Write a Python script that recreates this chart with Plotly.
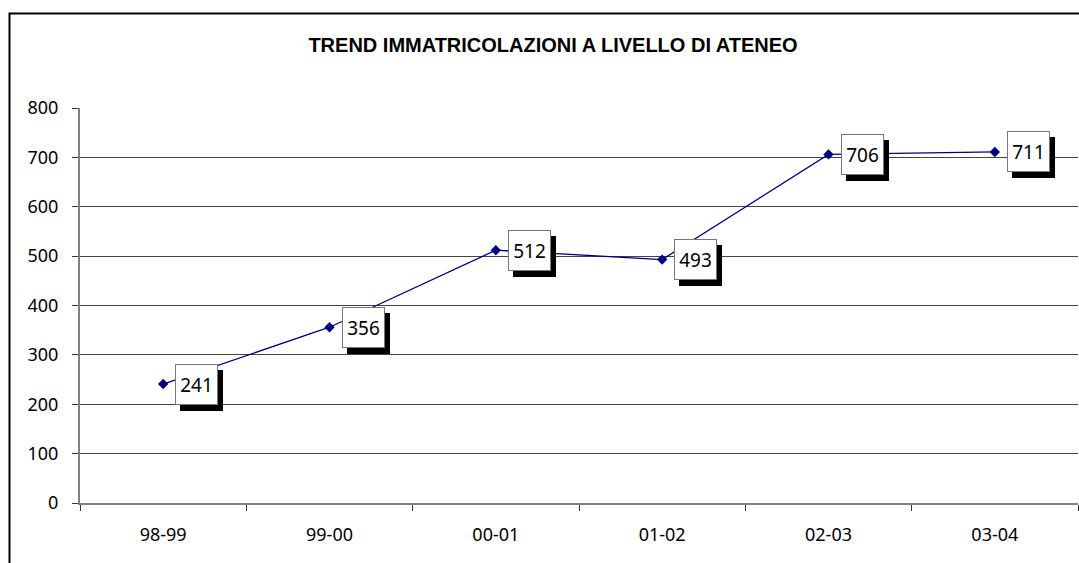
import plotly.graph_objects as go

categories = ["98-99", "99-00", "00-01", "01-02", "02-03", "03-04"]
values = [241, 356, 512, 493, 706, 711]
y_ticks = [0, 100, 200, 300, 400, 500, 600, 700, 800]
title_text = "TREND IMMATRICOLAZIONI A LIVELLO DI ATENEO"

FONT = "Noto Sans, DejaVu Sans, sans-serif"
W, H = 1079, 563
L, R, T, B = 80, 1, 108, 60

fig = go.Figure()
fig.add_trace(go.Scatter(
    x=categories, y=values, mode="lines+markers",
    line=dict(color="#000080", width=1.3),
    marker=dict(symbol="diamond", size=8, color="#000080"),
    showlegend=False, hoverinfo="skip",
))

annotations = []
for c, v in zip(categories, values):
    # shadow
    annotations.append(dict(
        x=c, y=v, xref="x", yref="y", text=str(v), showarrow=False,
        xanchor="left", yanchor="middle", xshift=12 + 5, yshift=-6,
        font=dict(family=FONT, size=19, color="black"),
        bgcolor="black", bordercolor="black", borderwidth=1, borderpad=1,
        width=39, height=37,
    ))
    annotations.append(dict(
        x=c, y=v, xref="x", yref="y", text=str(v), showarrow=False,
        xanchor="left", yanchor="middle", xshift=12,
        font=dict(family=FONT, size=19, color="black"),
        bgcolor="white", bordercolor="#777777", borderwidth=1, borderpad=1,
        width=39, height=37,
    ))

pw = W - L - R
ph = H - T - B
def px_x(p):
    return (p - L) / pw
def px_y(p):
    return (H - B - p) / ph

fig.update_layout(
    width=W, height=H,
    margin=dict(l=L, r=R, t=T, b=B),
    paper_bgcolor="white", plot_bgcolor="white",
    font=dict(family=FONT, size=18, color="black"),
    title=dict(text="<b>" + title_text + "</b>", x=553 / W, xanchor="center",
               y=1 - 45 / H, yanchor="middle", yref="container",
               font=dict(family="Liberation Sans, Arial, sans-serif", size=20, color="black")),
    xaxis=dict(type="category", range=[-0.5, 5.5], showgrid=False,
               showline=True, linecolor="#808080", linewidth=2,
               ticks="outside", tickson="boundaries", ticklen=6, tickcolor="#333333",
               ticklabelstandoff=14, tickfont=dict(size=18)),
    yaxis=dict(range=[0, 800], tickvals=y_ticks, showgrid=True, gridcolor="#444444",
               gridwidth=1, showline=True, linecolor="#808080", linewidth=2,
               ticks="outside", ticklen=6, tickcolor="#333333",
               ticklabelstandoff=10, tickfont=dict(size=18), zeroline=False),
    annotations=annotations,
    shapes=[dict(type="rect", xref="paper", yref="paper",
                 x0=px_x(9.5), x1=px_x(1100), y0=px_y(600), y1=px_y(13.5),
                 line=dict(color="black", width=2), fillcolor="rgba(0,0,0,0)",
                 layer="above")],
)

fig.write_html(
    "out.html",
    config={"displayModeBar": False},
    post_script="document.body.style.margin='0';document.body.style.overflow='hidden';",
)
